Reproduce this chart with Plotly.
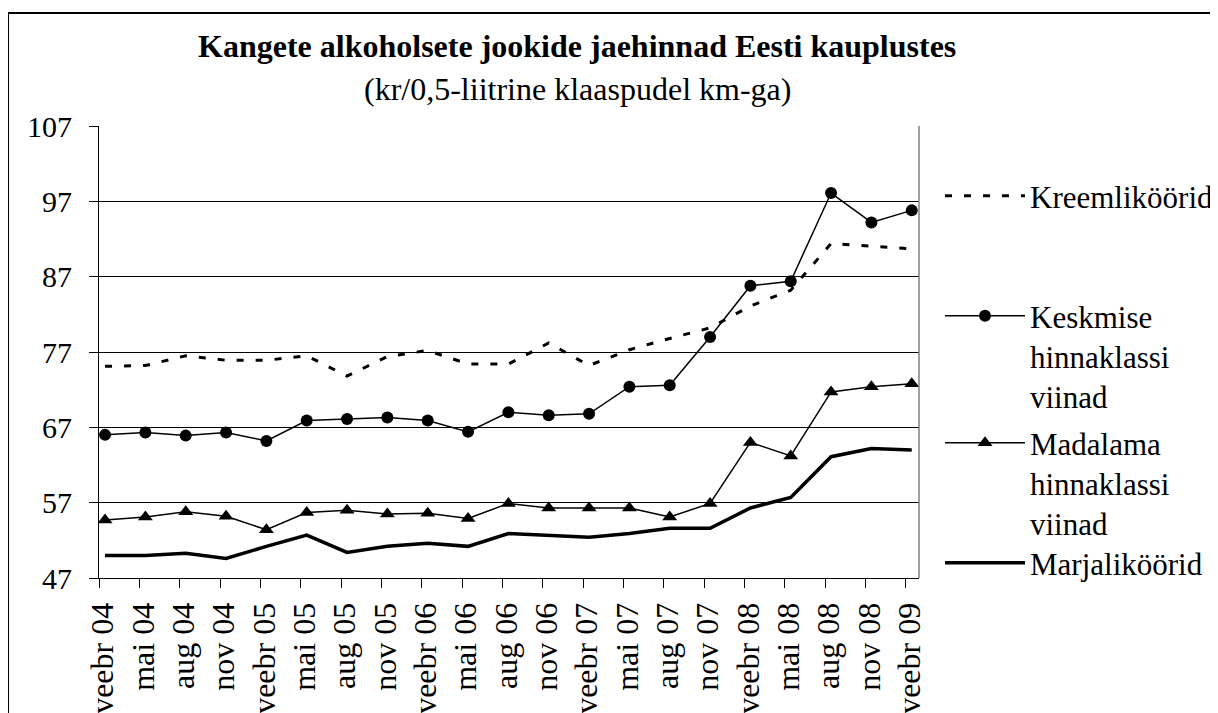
import plotly.graph_objects as go

categories = ["veebr 04", "mai 04", "aug 04", "nov 04", "veebr 05", "mai 05", "aug 05", "nov 05",
              "veebr 06", "mai 06", "aug 06", "nov 06", "veebr 07", "mai 07", "aug 07", "nov 07",
              "veebr 08", "mai 08", "aug 08", "nov 08", "veebr 09"]

kreemlikoorid = [75.1, 75.2, 76.5, 75.9, 75.9, 76.5, 73.8, 76.4, 77.2, 75.4, 75.4, 78.2,
                 75.2, 77.3, 78.8, 80.2, 83.1, 85.2, 91.4, 91.0, 90.7]
keskmise = [66.0, 66.3, 65.9, 66.3, 65.2, 67.9, 68.1, 68.3, 67.9, 66.4, 69.0, 68.6,
            68.8, 72.4, 72.6, 79.0, 85.8, 86.4, 98.1, 94.2, 95.8]
madalama = [54.7, 55.1, 55.8, 55.2, 53.4, 55.7, 56.0, 55.5, 55.6, 54.9, 56.9, 56.3,
            56.3, 56.3, 55.1, 56.9, 65.0, 63.2, 71.7, 72.4, 72.8]
marjalikoorid = [50.0, 50.0, 50.3, 49.6, 51.2, 52.7, 50.4, 51.2, 51.6, 51.2, 52.9, 52.7,
                 52.4, 52.9, 53.6, 53.6, 56.3, 57.7, 63.1, 64.2, 64.0]

y_ticks = [47, 57, 67, 77, 87, 97, 107]

FONT = "Liberation Serif, Times New Roman, serif"
# page body has an 8px margin: figure is drawn at (8, 8) in the window
OFF = 8
W, H = 1218 - OFF, 713 - OFF
PL, PR, PT, PB = 99, 919, 126, 578          # plot area in window pixels
ML, MR, MT, MB = PL - OFF, W - (PR - OFF), PT - OFF, H - (PB - OFF)
PW, PH = W - ML - MR, H - MT - MB


def px_x(p):
    return (p - OFF - ML) / PW


def px_y(p):
    return (H - MB - (p - OFF)) / PH


x_idx = list(range(len(categories)))

fig = go.Figure()
fig.add_trace(go.Scatter(x=x_idx, y=kreemlikoorid, mode="lines", name="Kreemliköörid",
                         line=dict(color="black", width=3, dash="7px,12px"), legend="legend"))
fig.add_trace(go.Scatter(x=x_idx, y=keskmise, mode="lines+markers",
                         name="Keskmise<br>hinnaklassi<br>viinad",
                         line=dict(color="black", width=1.5),
                         marker=dict(symbol="circle", size=12, color="black"), legend="legend2"))
fig.add_trace(go.Scatter(x=x_idx, y=madalama, mode="lines+markers",
                         name="Madalama<br>hinnaklassi<br>viinad",
                         line=dict(color="black", width=1.5),
                         marker=dict(symbol="triangle-up", size=13, color="black"), legend="legend3"))
fig.add_trace(go.Scatter(x=x_idx, y=marjalikoorid, mode="lines", name="Marjaliköörid",
                         line=dict(color="black", width=3.5), legend="legend4"))

leg_common = dict(xanchor="left", yanchor="middle", bgcolor="rgba(0,0,0,0)", borderwidth=0,
                  font=dict(family=FONT, size=31, color="black"), itemwidth=80, valign="top")
lx = px_x(940)

fig.update_layout(
    width=W, height=H,
    margin=dict(l=ML, r=MR, t=MT, b=MB, autoexpand=False),
    paper_bgcolor="white", plot_bgcolor="white",
    font=dict(family=FONT, color="black"),
    showlegend=True,
    legend=dict(x=lx, y=px_y(196), **leg_common),
    legend2=dict(x=lx, y=px_y(356), **leg_common),
    legend3=dict(x=lx, y=px_y(483), **leg_common),
    legend4=dict(x=lx, y=px_y(563), **leg_common),
    xaxis=dict(range=[-0.15, 20.18], tickmode="array",
               tickvals=[i - 0.149 for i in x_idx], ticktext=categories,
               tickangle=-90, ticks="outside", ticklen=9, tickcolor="black", tickwidth=1,
               ticklabelshift=4, ticklabelstandoff=2,
               tickfont=dict(family=FONT, size=32, color="black"),
               showline=True, linecolor="black", linewidth=1, showgrid=False, zeroline=False),
    yaxis=dict(range=[47, 107], tickmode="array", tickvals=y_ticks,
               ticks="outside", ticklen=9, tickcolor="black", tickwidth=1,
               ticklabelstandoff=11,
               tickfont=dict(family=FONT, size=30, color="black"),
               showline=True, linecolor="black", linewidth=1,
               showgrid=True, gridcolor="black", gridwidth=1, zeroline=False),
    annotations=[
        dict(text="<b>Kangete alkoholsete jookide jaehinnad Eesti kauplustes</b>",
             x=px_x(577), y=px_y(46), xref="paper", yref="paper", showarrow=False,
             xanchor="center", yanchor="middle", font=dict(family=FONT, size=32, color="black")),
        dict(text="(kr/0,5-liitrine klaaspudel km-ga)",
             x=px_x(577), y=px_y(89), xref="paper", yref="paper", showarrow=False,
             xanchor="center", yanchor="middle", font=dict(family=FONT, size=32, color="black")),
    ],
    shapes=[
        dict(type="rect", xref="paper", yref="paper", x0=px_x(8), y0=px_y(740), x1=px_x(1240), y1=px_y(13),
             line=dict(color="black", width=2), fillcolor="rgba(0,0,0,0)", layer="below"),
        dict(type="line", xref="paper", yref="paper", x0=1, y0=0, x1=1, y1=1,
             line=dict(color="#808080", width=1.5)),
    ],
)

fig.write_html("out.html")
